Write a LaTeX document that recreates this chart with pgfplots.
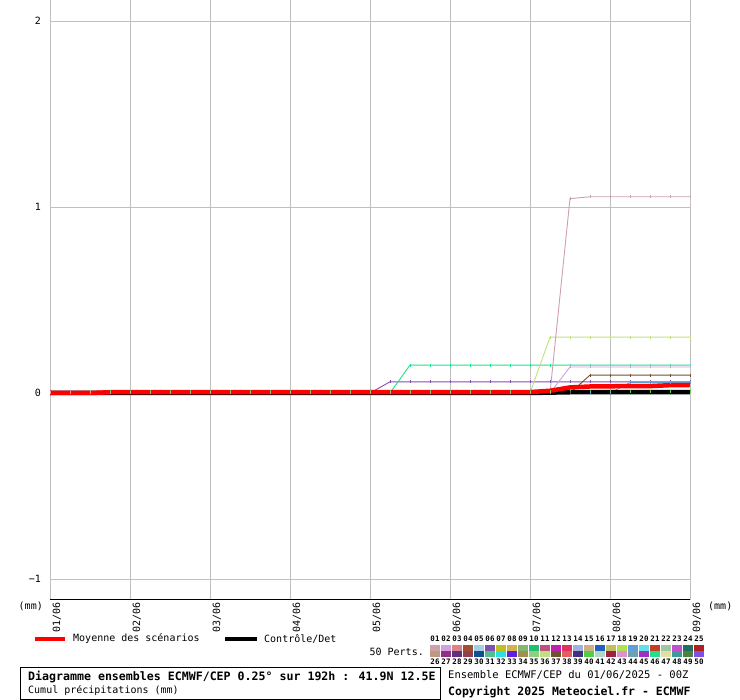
\documentclass[border=0pt]{standalone}
\usepackage{pgfplots}
\pgfplotsset{compat=1.18}
\usepackage{pgfplotstable}
\usepackage{fontspec}
\setmainfont{DejaVu Sans Mono}
\setmonofont{DejaVu Sans Mono}

\definecolor{c1}{HTML}{D0A0A8}\definecolor{c2}{HTML}{D0A0E0}\definecolor{c3}{HTML}{E08088}
\definecolor{c4}{HTML}{A05030}\definecolor{c5}{HTML}{A0D0E8}\definecolor{c6}{HTML}{8050B0}
\definecolor{c7}{HTML}{C0C020}\definecolor{c8}{HTML}{D8B050}\definecolor{c9}{HTML}{80B870}
\definecolor{c10}{HTML}{20C070}\definecolor{c11}{HTML}{C05080}\definecolor{c12}{HTML}{C020B0}
\definecolor{c13}{HTML}{E03060}\definecolor{c14}{HTML}{A0B0E0}\definecolor{c15}{HTML}{D0B080}
\definecolor{c16}{HTML}{2060C0}\definecolor{c17}{HTML}{C0C060}\definecolor{c18}{HTML}{B0E050}
\definecolor{c19}{HTML}{60A0D8}\definecolor{c20}{HTML}{60E0E8}\definecolor{c21}{HTML}{C04020}
\definecolor{c22}{HTML}{A0C8A0}\definecolor{c23}{HTML}{C050D0}\definecolor{c24}{HTML}{207060}
\definecolor{c25}{HTML}{B02020}\definecolor{c26}{HTML}{C09880}\definecolor{c27}{HTML}{903080}
\definecolor{c28}{HTML}{603080}\definecolor{c29}{HTML}{904050}\definecolor{c30}{HTML}{105090}
\definecolor{c31}{HTML}{50C090}\definecolor{c32}{HTML}{30E0E0}\definecolor{c33}{HTML}{6020E0}
\definecolor{c34}{HTML}{A09050}\definecolor{c35}{HTML}{90D080}\definecolor{c36}{HTML}{C0E080}
\definecolor{c37}{HTML}{705030}\definecolor{c38}{HTML}{E06060}\definecolor{c39}{HTML}{403080}
\definecolor{c40}{HTML}{50D040}\definecolor{c41}{HTML}{B0D8C8}\definecolor{c42}{HTML}{A02040}
\definecolor{c43}{HTML}{E090D0}\definecolor{c44}{HTML}{70A0B0}\definecolor{c45}{HTML}{A030C0}
\definecolor{c46}{HTML}{20E090}\definecolor{c47}{HTML}{E0E0A0}\definecolor{c48}{HTML}{409898}
\definecolor{c49}{HTML}{508040}\definecolor{c50}{HTML}{8050E0}
\definecolor{gridgray}{HTML}{C0C0C0}
\definecolor{meanred}{HTML}{FF0000}

\pgfplotstableread{
d    m01   m36  m46  m06  m02  m37   m19   m15   m40  ctrl  mean
0    0     0    0    0    0    0     0     0     0    0     0
0.25 0     0    0    0    0    0     0     0     0    0     0
0.5  0     0    0    0    0    0     0     0.008 0    0     0
0.75 0     0    0    0    0    0     0     0.008 0.01 0     0.004
1.0  0     0    0    0    0    0     0     0.008 0.01 0     0.004
1.25 0     0    0    0    0    0     0     0.008 0.01 0     0.004
1.5  0     0    0    0    0    0     0     0.008 0.01 0     0.004
1.75 0     0    0    0    0    0     0     0.008 0.01 0     0.004
2.0  0     0    0    0    0    0     0     0.008 0.01 0     0.004
2.25 0     0    0    0    0    0     0     0.008 0.01 0     0.004
2.5  0     0    0    0    0    0     0     0.008 0.01 0     0.004
2.75 0     0    0    0    0    0     0     0.008 0.01 0     0.004
3.0  0     0    0    0    0    0     0     0.008 0.01 0     0.004
3.25 0     0    0    0    0    0     0     0.008 0.01 0     0.004
3.5  0     0    0    0    0    0     0     0.008 0.01 0     0.004
3.75 0     0    0    0    0    0     0     0.008 0.01 0     0.004
4.0  0     0    0    0    0    0     0     0.008 0.01 0     0.004
4.25 0     0    0    0.06 0    0     0     0.008 0.01 0     0.004
4.5  0     0    0.15 0.06 0    0     0     0.008 0.01 0     0.005
4.75 0     0    0.15 0.06 0    0     0     0.008 0.01 0     0.005
5.0  0     0    0.15 0.06 0    0     0     0.008 0.01 0     0.005
5.25 0     0    0.15 0.06 0    0     0     0.008 0.01 0     0.005
5.5  0     0    0.15 0.06 0    0     0     0.008 0.01 0     0.005
5.75 0     0    0.15 0.06 0    0     0     0.008 0.01 0     0.005
6.0  0     0    0.15 0.06 0    0     0     0.008 0.01 0     0.005
6.25 0     0.30 0.15 0.06 0    0     0     0.008 0.01 0.002 0.012
6.5  1.045 0.30 0.15 0.06 0.14 0     0     0.008 0.01 0.004 0.030
6.75 1.055 0.30 0.15 0.06 0.14 0.096 0     0.008 0.01 0.004 0.035
7.0  1.055 0.30 0.15 0.06 0.14 0.096 0     0.008 0.01 0.004 0.036
7.25 1.055 0.30 0.15 0.06 0.14 0.096 0.056 0.008 0.01 0.004 0.037
7.5  1.055 0.30 0.15 0.06 0.14 0.096 0.056 0.008 0.01 0.004 0.037
7.75 1.055 0.30 0.15 0.06 0.14 0.096 0.056 0.008 0.01 0.004 0.042
8.0  1.055 0.30 0.15 0.06 0.14 0.096 0.056 0.008 0.01 0.004 0.043
}\ens

\begin{document}
\begin{tikzpicture}
\path[use as bounding box] (0pt,0pt) rectangle (740pt,-700pt);
\begin{axis}[
  at={(50pt,-600pt)}, anchor=south west,
  scale only axis, width=640pt, height=600pt,
  xmin=0, xmax=8, ymin=-1.113, ymax=2.113,
  clip=false,
  axis x line*=bottom, axis y line*=left,
  y axis line style={draw=none},
  x axis line style={black, line width=1pt, -},
  xtick={0,1,2,3,4,5,6,7,8},
  xticklabels={01/06,02/06,03/06,04/06,05/06,06/06,07/06,08/06,09/06},
  ytick={-1,0,1,2},
  yticklabels={−1,0,1,2},
  grid=major, grid style={gridgray, line width=0.8pt},
  major tick length=0pt, tick style={draw=none},
  /pgf/number format/assume math mode=true,
  ticklabel style={font=\fontsize{10}{12}\selectfont},
  xticklabel style={rotate=90, anchor=north east, inner sep=2.5pt},
  yticklabel style={anchor=east, inner sep=0pt, xshift=-9pt},
  every axis plot/.append style={line width=0.9pt, mark=|, mark size=1.5pt, mark options={solid, line width=0.9pt}},
]
\addplot[c15] table[x=d, y=m15] {\ens};
\addplot[c40] table[x=d, y=m40] {\ens};
\addplot[c6] table[x=d, y=m06] {\ens};
\addplot[c46] table[x=d, y=m46] {\ens};
\addplot[c19] table[x=d, y=m19] {\ens};
\addplot[c37] table[x=d, y=m37] {\ens};
\addplot[c2] table[x=d, y=m02] {\ens};
\addplot[c36] table[x=d, y=m36] {\ens};
\addplot[c1] table[x=d, y=m01] {\ens};
\addplot[black, line width=4.5pt, mark=none] table[x=d, y=ctrl] {\ens};
\addplot[meanred, line width=4.5pt, mark=none] table[x=d, y=mean] {\ens};
\end{axis}

\begin{scope}[x=1pt, y=-1pt, font=\fontsize{10}{12}\selectfont]
\node[anchor=east, inner sep=0pt] at (43,606) {(mm)};
\node[anchor=west, inner sep=0pt] at (708,606) {(mm)};
% legend
\draw[meanred, line width=4pt] (35,639) -- (65,639);
\node[anchor=west, inner sep=0pt] at (73,639) {Moyenne des scénarios};
\draw[black, line width=4pt] (225,639) -- (257,639);
\node[anchor=west, inner sep=0pt] at (264,639) {Contrôle/Det};
\node[anchor=east, inner sep=0pt] at (424,652) {50 Perts.};
\foreach \i in {1,...,25}{
  \pgfmathtruncatemacro{\j}{\i+25}
  \pgfmathsetmacro{\xa}{430+11*(\i-1)}
  \fill[c\i] (\xa,645) rectangle ++(10,6);
  \fill[c\j] (\xa,651) rectangle ++(10,6);
  \node[inner sep=0pt, font=\fontsize{7.5}{8}\selectfont\bfseries] at (\xa+5,639) {\ifnum\i<10 0\fi\i};
  \node[inner sep=0pt, font=\fontsize{7.5}{8}\selectfont\bfseries] at (\xa+5,662) {\j};
}
% title box
\draw[black, line width=1pt] (20,668) rectangle (440,699.5);
\node[anchor=west, inner sep=0pt, font=\fontsize{11.6}{13}\selectfont\bfseries] at (28,677) {Diagramme ensembles ECMWF/CEP 0.25° sur 192h : 41.9N 12.5E};
\node[anchor=west, inner sep=0pt] at (28,691) {Cumul précipitations (mm)};
\node[anchor=west, inner sep=0pt, font=\fontsize{10.5}{12}\selectfont] at (448,675) {Ensemble ECMWF/CEP du 01/06/2025 - 00Z};
\node[anchor=west, inner sep=0pt, font=\fontsize{11.5}{13}\selectfont\bfseries] at (448,692) {Copyright 2025 Meteociel.fr - ECMWF};
\end{scope}
\end{tikzpicture}
\end{document}
